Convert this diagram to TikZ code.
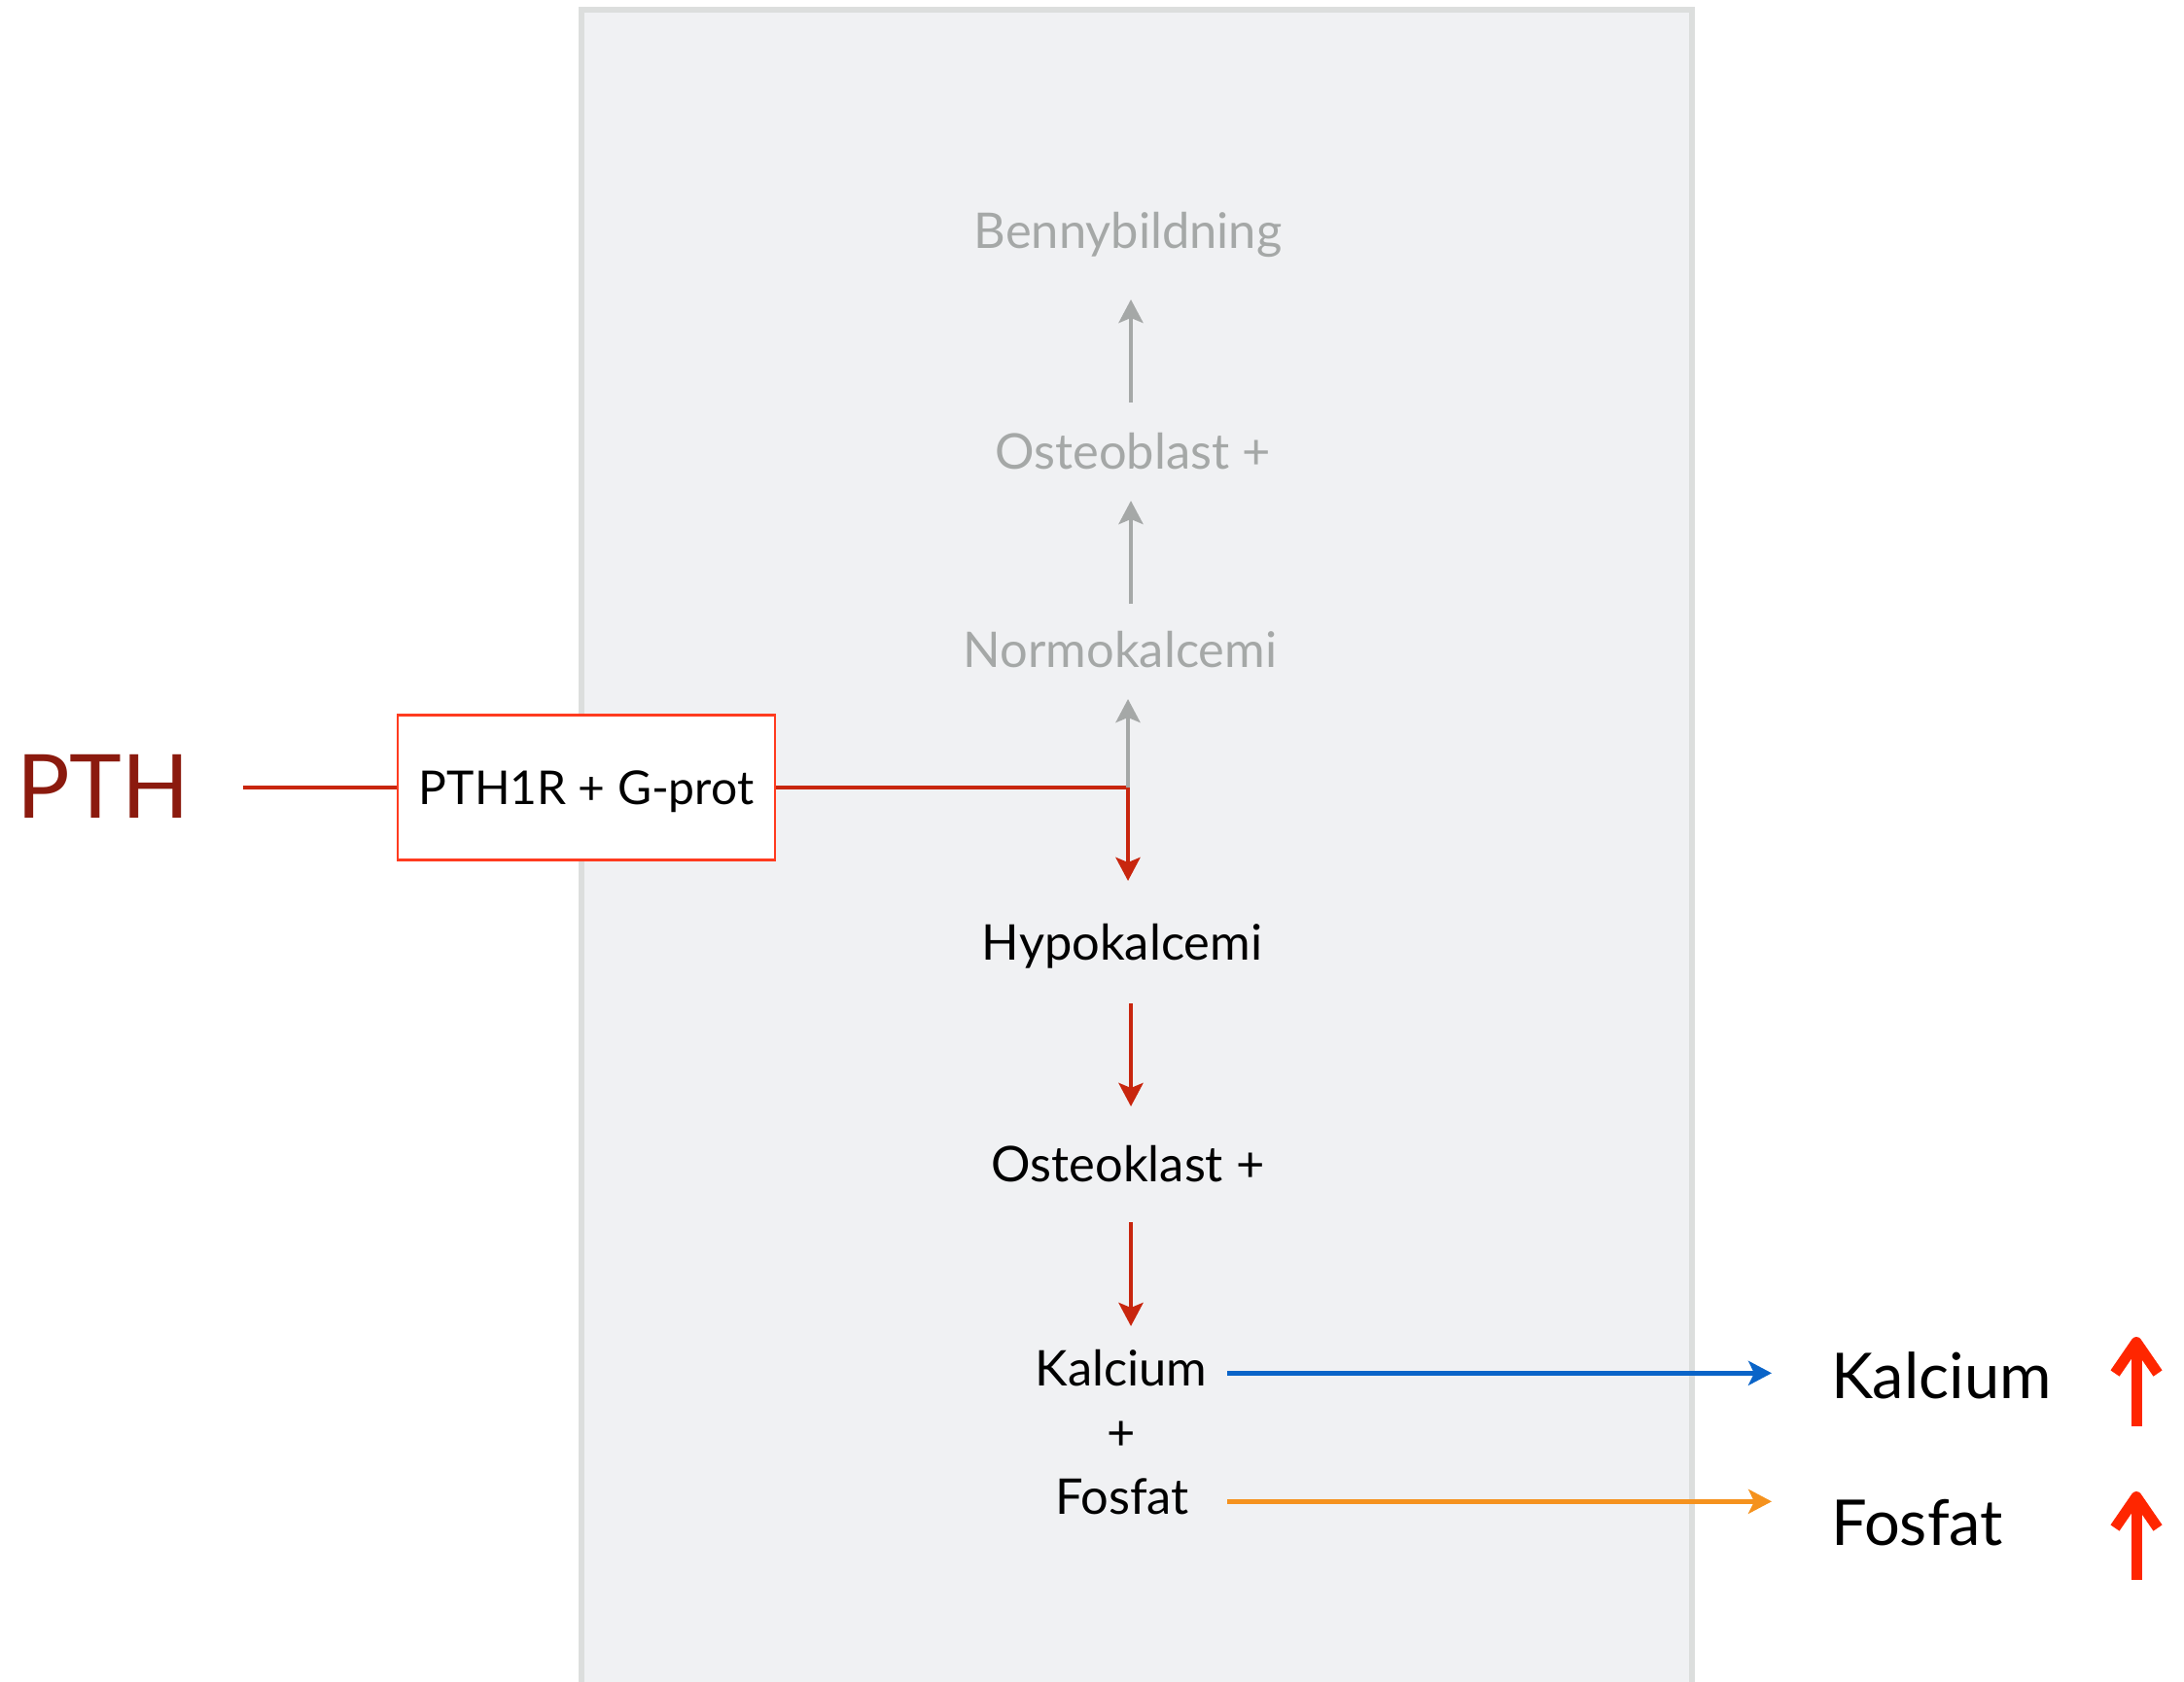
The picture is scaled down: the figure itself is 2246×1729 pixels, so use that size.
\documentclass[tikz,border=0pt]{standalone}
\usepackage{fontspec}
\setmainfont{Lato}
\usetikzlibrary{arrows.meta}

\definecolor{panelfill}{HTML}{F0F1F3}
\definecolor{panelline}{HTML}{DCDEDD}
\definecolor{fadegray}{HTML}{A5A8A7}
\definecolor{pathred}{HTML}{C8260E}
\definecolor{boxred}{HTML}{FF3B1F}
\definecolor{hormone}{HTML}{8B1A0E}
\definecolor{calblue}{HTML}{0A64C8}
\definecolor{phosorange}{HTML}{F5921E}
\definecolor{risered}{HTML}{FF2600}

\begin{document}
\begin{tikzpicture}[x=0.5pt,y=-0.5pt,
  lbl/.style={inner sep=0pt, outer sep=0pt, text height=19pt, text depth=6.3pt,
              anchor=base, font=\fontsize{25.3}{30}\selectfont},
  dim/.style={lbl, text=fadegray},
  biglbl/.style={inner sep=0pt, outer sep=0pt, text height=24.4pt, text depth=8.1pt,
              anchor=base west, font=\fontsize{32.5}{38}\selectfont},
  tipsmall/.style={-{Stealth[length=12pt,width=12.5pt,inset=2.5pt]}},
  grayarr/.style={draw=fadegray, line width=2.2pt, tipsmall},
  redline/.style={draw=pathred, line width=2.3pt},
  redarr/.style={redline, tipsmall},
  flowarr/.style={line width=2.2pt, -{Stealth[length=12pt,width=12.5pt,inset=3pt]}},
  risearr/.style={draw=risered, line width=5.5pt,
              -{Straight Barb[length=16pt,width=22pt,line join=round,line cap=butt]}},
  receptor/.style={draw=boxred, fill=white, line width=1.2pt, inner sep=0pt,
              minimum width=194pt, minimum height=74.5pt,
              text height=23pt, text depth=6pt, font=\fontsize{24}{29}\selectfont}
]
\useasboundingbox (0,0) rectangle (2246,1729);
\fill[white] (0,0) rectangle (2246,1729);

% bone compartment
\draw[panelline, fill=panelfill, line width=3pt] (598,10) rectangle (1740,1760);

% column positions
\coordinate (col) at (1160,0);
\coordinate (colb) at (1163,0);
\coordinate (arrL) at (1262,0);
\coordinate (arrR) at (1822,0);

% faded upper chain
\node[dim] (bone)   at (1160,255) {Bennybildning};
\node[dim] (oblast) at (1165,482) {Osteoblast +};
\node[dim] (normo)  at (1152,686) {Normokalcemi};

% active chain
\node[lbl] (hypo)   at (1154,987)  {Hypokalcemi};
\node[lbl] (oklast) at (1160,1215) {Osteoklast +};
\node[lbl] (ca)     at (1153,1425) {Kalcium};
\node[lbl] (plus)   at (1153,1491) {+};
\node[lbl] (po4)    at (1154,1557) {Fosfat};

% hormone and receptor
\node[inner sep=0pt, outer sep=0pt, text height=34pt, text depth=11pt, anchor=base,
      text=hormone, font=\fontsize{45.5}{54}\selectfont] (pth) at (106,841) {PTH};
\node[receptor] (rec) at (603,810) {PTH1R + G-prot};

% results
\node[biglbl] (bigca)  at (1883,1438) {Kalcium};
\node[biglbl] (bigpo4) at (1883,1589) {Fosfat};

% signalling path
\coordinate (jn) at (rec.east -| col);
\draw[redline, shorten <=27.7pt] (pth.east |- rec.west) -- (rec.west);
\draw[redarr, shorten >=21.5pt] (rec.east) -- (jn) -- (hypo.north -| col);
\draw[grayarr, shorten >=10.2pt] (jn) -- (normo.south -| col);
\draw[grayarr, shorten <=13.5pt, shorten >=10.2pt] (normo.north -| colb) -- (oblast.south -| colb);
\draw[grayarr, shorten <=15pt, shorten >=20.2pt] (oblast.north -| colb) -- (bone.south -| colb);
\draw[redarr, shorten <=16.2pt, shorten >=19.5pt] (hypo.south -| colb) -- (oklast.north -| colb);
\draw[redarr, shorten <=14.7pt, shorten >=11.5pt] (oklast.south -| colb) -- (ca.north -| colb);

% release into blood
\draw[flowarr, calblue] (ca -| arrL) -- (ca -| arrR);
\draw[flowarr, phosorange] (po4 -| arrL) -- (po4 -| arrR);

% rise markers
\coordinate (up1s) at (2197,1467);
\coordinate (up1e) at (2197,1375);
\coordinate (up2s) at (2197,1625);
\coordinate (up2e) at (2197,1534);
\draw[risearr] (up1s) -- (up1e);
\draw[risearr] (up2s) -- (up2e);
\end{tikzpicture}
\end{document}
